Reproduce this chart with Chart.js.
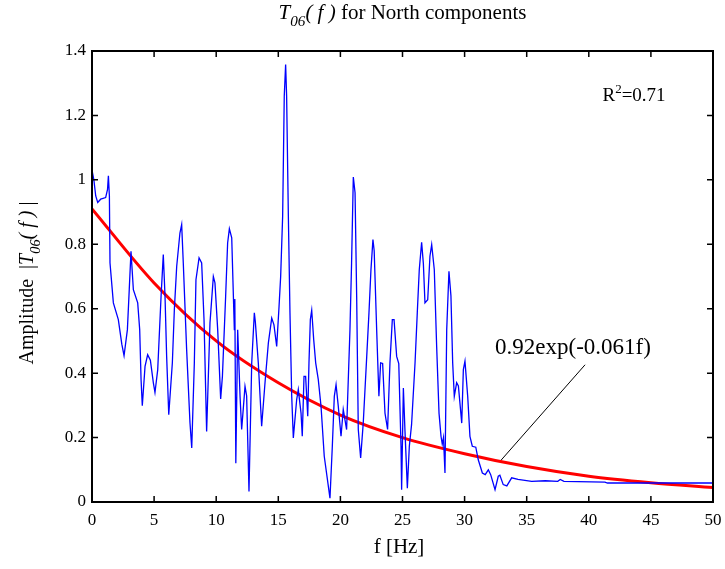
<!DOCTYPE html>
<html>
<head>
<meta charset="utf-8">
<script src="https://cdn.jsdelivr.net/npm/chart.js@4"></script>
<style>
  body { margin: 0; background: #fff; }
  #wrap { width: 725px; height: 569px; }
</style>
</head>
<body>
<div id="wrap"><canvas id="amp"></canvas></div>
<script>
// values
var freqs = [0, 0.15, 0.3, 0.46, 0.7, 1.1, 1.25, 1.32, 1.4, 1.45, 1.72, 2.12, 2.4, 2.58, 2.85, 3.0, 3.14, 3.33, 3.68, 3.84,
  3.95, 4.05, 4.27, 4.48, 4.7, 4.94, 5.07, 5.29, 5.56, 5.74, 5.88, 6.01, 6.18, 6.47, 6.63, 6.82, 7.08, 7.22, 7.35, 7.62,
  7.89, 8.03, 8.24, 8.37, 8.62, 8.83, 9.02, 9.23, 9.5, 9.77, 9.9, 10.12, 10.36, 10.5, 10.76, 10.92, 11.06, 11.25, 11.46, 11.5,
  11.58, 11.73, 11.92, 12.05, 12.32, 12.45, 12.64, 12.86, 13.07, 13.15, 13.39, 13.66, 13.93, 14.2, 14.47, 14.65, 14.87, 15.06, 15.19, 15.35,
  15.48, 15.59, 15.67, 15.81, 15.94, 16.08, 16.21, 16.48, 16.61, 16.83, 16.93, 17.07, 17.2, 17.37, 17.47, 17.58, 17.69, 17.85, 18.01, 18.22,
  18.44, 18.7, 19.16, 19.35, 19.51, 19.65, 19.83, 20.05, 20.23, 20.5, 20.77, 20.9, 21.04, 21.18, 21.31, 21.44, 21.63, 21.84, 22.12, 22.3,
  22.46, 22.62, 22.72, 22.92, 23.1, 23.24, 23.4, 23.59, 23.8, 23.99, 24.18, 24.32, 24.53, 24.7, 24.88, 24.93, 25.07, 25.2, 25.39, 25.55,
  25.73, 26.01, 26.19, 26.35, 26.54, 26.68, 26.81, 27.03, 27.21, 27.35, 27.56, 27.75, 27.94, 28.1, 28.2, 28.3, 28.42, 28.56, 28.74, 28.9,
  29.04, 29.17, 29.36, 29.5, 29.77, 29.9, 30.03, 30.25, 30.43, 30.62, 30.9, 31.1, 31.43, 31.66, 31.91, 32.1, 32.45, 32.71, 32.84, 33.11,
  33.4, 33.79, 34.3, 35.4, 36.5, 37.5, 37.7, 38, 41.3, 41.5, 50];
var amps = [1.03, 1.0, 0.95, 0.93, 0.94, 0.945, 0.97, 1.013, 0.95, 0.742, 0.618, 0.566, 0.49, 0.454, 0.535, 0.66, 0.778, 0.659, 0.618, 0.535,
  0.38, 0.299, 0.421, 0.457, 0.44, 0.37, 0.34, 0.41, 0.638, 0.768, 0.638, 0.452, 0.271, 0.432, 0.597, 0.732, 0.835, 0.861, 0.742, 0.473,
  0.245, 0.168, 0.432, 0.69, 0.758, 0.742, 0.566, 0.219, 0.556, 0.70, 0.68, 0.535, 0.32, 0.39, 0.638, 0.804, 0.848, 0.82, 0.535, 0.63,
  0.12, 0.535, 0.328, 0.225, 0.359, 0.33, 0.033, 0.432, 0.587, 0.56, 0.432, 0.235, 0.37, 0.494, 0.571, 0.55, 0.483, 0.607, 0.70, 0.887,
  1.26, 1.358, 1.26, 0.887, 0.587, 0.328, 0.199, 0.318, 0.349, 0.276, 0.204, 0.39, 0.39, 0.266, 0.432, 0.566, 0.595, 0.504, 0.432, 0.38,
  0.297, 0.142, 0.012, 0.173, 0.328, 0.364, 0.297, 0.204, 0.287, 0.225, 0.535, 0.742, 1.009, 0.96, 0.638, 0.225, 0.137, 0.245, 0.452, 0.587,
  0.721, 0.815, 0.78, 0.535, 0.328, 0.432, 0.43, 0.276, 0.225, 0.432, 0.566, 0.566, 0.452, 0.43, 0.173, 0.038, 0.354, 0.22, 0.043, 0.173,
  0.24, 0.432, 0.587, 0.721, 0.806, 0.74, 0.618, 0.628, 0.763, 0.799, 0.721, 0.483, 0.276, 0.204, 0.18, 0.2, 0.09, 0.535, 0.716, 0.64,
  0.432, 0.328, 0.37, 0.36, 0.245, 0.411, 0.437, 0.328, 0.204, 0.173, 0.17, 0.131, 0.09, 0.085, 0.1, 0.085, 0.038, 0.08, 0.083, 0.054,
  0.05, 0.075, 0.07, 0.064, 0.066, 0.064, 0.07, 0.064, 0.062, 0.059, 0.059];

// fitted curve, read at 5 Hz steps
var fitFreqs = [0, 5, 10, 15, 20, 25, 30, 35, 40, 45, 50];
var fitAmps = [0.91, 0.68, 0.50, 0.37, 0.27, 0.20, 0.15, 0.11, 0.08, 0.06, 0.045];

// leader line for the fit label
var leaderFreqs = [32.85, 39.7];
var leaderAmps = [0.126, 0.426];

var xTicks = [0, 5, 10, 15, 20, 25, 30, 35, 40, 45, 50];
var yTicks = [0, 0.2, 0.4, 0.6, 0.8, 1, 1.2, 1.4];

function toPoints(xs, ys) {
  var out = [];
  for (var i = 0; i < xs.length; i++) out.push({ x: xs[i], y: ys[i] });
  return out;
}

var serif = "'Liberation Serif', 'Times New Roman', serif";

// draws a run of pieces: {t, it, sub}
function richText(ctx, parts, x, y, size, align) {
  var w = 0;
  parts.forEach(function (p) {
    ctx.font = (p.it ? 'italic ' : '') + (p.sub ? size * 0.72 : size) + 'px ' + serif;
    w += ctx.measureText(p.t).width;
  });
  var cx = align === 'center' ? x - w / 2 : x;
  parts.forEach(function (p) {
    ctx.font = (p.it ? 'italic ' : '') + (p.sub ? size * 0.72 : size) + 'px ' + serif;
    ctx.fillText(p.t, cx, y + (p.sub ? size * 0.35 : 0));
    cx += ctx.measureText(p.t).width;
  });
}

var decor = {
  id: 'decor',
  afterDatasetsDraw: function (chart) {
    var ctx = chart.ctx, a = chart.chartArea;
    var xs = chart.scales.x, ys = chart.scales.y;
    ctx.save();
    ctx.strokeStyle = '#000';
    ctx.lineWidth = 2;
    ctx.strokeRect(a.left, a.top, a.right - a.left, a.bottom - a.top);
    ctx.lineWidth = 1.5;
    ctx.beginPath();
    xTicks.forEach(function (v) {
      var px = xs.getPixelForValue(v);
      ctx.moveTo(px, a.bottom); ctx.lineTo(px, a.bottom - 6);
      ctx.moveTo(px, a.top); ctx.lineTo(px, a.top + 6);
    });
    yTicks.forEach(function (v) {
      var py = ys.getPixelForValue(v);
      ctx.moveTo(a.left, py); ctx.lineTo(a.left + 6, py);
      ctx.moveTo(a.right, py); ctx.lineTo(a.right - 6, py);
    });
    ctx.stroke();

    ctx.fillStyle = '#000';
    ctx.textBaseline = 'alphabetic';
    ctx.textAlign = 'left';
    // title
    richText(ctx, [{ t: 'T', it: 1 }, { t: '06', it: 1, sub: 1 }, { t: '( f )', it: 1 }, { t: ' for North components' }],
      (a.left + a.right) / 2, 19, 21, 'center');
    // x label
    ctx.font = '21px ' + serif;
    ctx.textAlign = 'center';
    ctx.fillText('f [Hz]', 399, 553);
    // y label
    ctx.save();
    ctx.translate(33, 283);
    ctx.rotate(-Math.PI / 2);
    ctx.textAlign = 'left';
    richText(ctx, [{ t: 'Amplitude  |' }, { t: 'T', it: 1 }, { t: '06', it: 1, sub: 1 }, { t: '( f )', it: 1 }, { t: ' |' }],
      0, 0, 20, 'center');
    ctx.restore();
    // fit label and R^2
    ctx.textAlign = 'left';
    ctx.font = '23px ' + serif;
    ctx.fillText('0.92exp(-0.061f)', xs.getPixelForValue(32.45), ys.getPixelForValue(0.482) + 7);
    var rx = xs.getPixelForValue(41.1), ry = ys.getPixelForValue(1.265) + 7;
    ctx.font = '19px ' + serif;
    ctx.fillText('R', rx, ry);
    var rw = ctx.measureText('R').width;
    ctx.font = '13px ' + serif;
    ctx.fillText('2', rx + rw, ry - 8);
    var sw = ctx.measureText('2').width;
    ctx.font = '19px ' + serif;
    ctx.fillText('=0.71', rx + rw + sw, ry);
    ctx.restore();
  }
};

new Chart(document.getElementById('amp'), {
  type: 'scatter',
  data: {
    datasets: [{
      label: 'T06',
      data: toPoints(freqs, amps),
      showLine: true,
      borderColor: 'rgb(0, 0, 255)',
      borderWidth: 1.3,
      pointRadius: 0,
      tension: 0
    }, {
      label: 'fit',
      data: toPoints(fitFreqs, fitAmps),
      showLine: true,
      borderColor: 'rgb(255, 0, 0)',
      borderWidth: 3,
      pointRadius: 0,
      cubicInterpolationMode: 'monotone'
    }, {
      label: 'leader',
      data: toPoints(leaderFreqs, leaderAmps),
      showLine: true,
      borderColor: '#000',
      borderWidth: 1,
      pointRadius: 0
    }]
  },
  options: {
    responsive: true,
    maintainAspectRatio: false,
    animation: false,
    layout: { padding: { left: 0, right: 12, top: 51, bottom: 0 } },
    scales: {
      x: {
        type: 'linear',
        min: 0,
        max: 50,
        afterBuildTicks: function (s) { s.ticks = xTicks.map(function (v) { return { value: v }; }); },
        afterFit: function (s) { s.height = 67; s.paddingLeft = 0; s.paddingRight = 0; },
        grid: { display: false, drawTicks: false },
        border: { display: false },
        ticks: { color: '#000', padding: 8, font: { family: serif, size: 17 }, maxRotation: 0 }
      },
      y: {
        min: 0,
        max: 1.4,
        afterBuildTicks: function (s) { s.ticks = yTicks.map(function (v) { return { value: v }; }); },
        afterFit: function (s) { s.width = 92; s.paddingTop = 0; s.paddingBottom = 0; },
        grid: { display: false, drawTicks: false },
        border: { display: false },
        ticks: {
          color: '#000', padding: 6, font: { family: serif, size: 17 },
          callback: function (v) { return String(v); }
        }
      }
    },
    plugins: {
      legend: { display: false },
      tooltip: { enabled: false }
    }
  },
  plugins: [decor]
});
</script>
</body>
</html>
